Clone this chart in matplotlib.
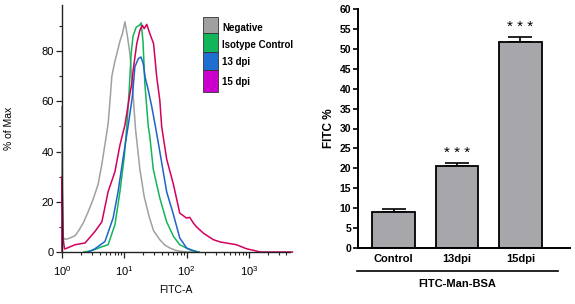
#!/usr/bin/env python3
"""Flow histogram of FITC-Man-BSA uptake plus bar summary."""

import matplotlib

matplotlib.use("Agg")
import matplotlib.pyplot as plt
import numpy as np
from matplotlib.patches import Rectangle
from matplotlib.ticker import FixedLocator, LogLocator, MultipleLocator, NullFormatter

plt.rcParams["font.family"] = ["Liberation Sans", "DejaVu Sans"]
plt.rcParams["mathtext.fontset"] = "custom"
plt.rcParams["mathtext.rm"] = "Liberation Sans"
plt.rcParams["mathtext.it"] = "Liberation Sans:italic"
plt.rcParams["mathtext.bf"] = "Liberation Sans:bold"

# histogram traces: log10(FITC-A) positions and % of max
neg_lx = [0.0, 0.0, 0.015, 0.05, 0.12, 0.21, 0.26, 0.34, 0.42, 0.50, 0.58, 0.64,
          0.69, 0.74, 0.77, 0.80, 0.84, 0.88, 0.93, 0.97, 1.01, 1.05, 1.09, 1.14,
          1.18, 1.25, 1.32, 1.40, 1.47, 1.57, 1.65, 1.73, 1.82, 1.89, 2.0, 2.2]
neg_y = [0, 58, 6, 5, 5.5, 6.5, 8.2, 11.5, 16, 21, 27, 35,
         43, 51, 60, 70, 75, 79, 84, 87, 91.7, 86, 79, 63,
         49, 33, 22, 14, 8.5, 4.9, 2.8, 1.6, 0.7, 0.3, 0, 0]

iso_lx = [0.35, 0.45, 0.53, 0.63, 0.74, 0.85, 0.93, 1.00, 1.04, 1.08, 1.11, 1.14,
          1.19, 1.25, 1.27, 1.30, 1.33, 1.385, 1.41, 1.465, 1.57, 1.68, 1.79, 1.89,
          2.05, 2.2]
iso_y = [0, 0.4, 1, 2, 2.9, 10.9, 24, 38, 50, 65, 79, 86,
         89.5, 90.5, 91.3, 84, 67, 50, 46, 33, 21.5, 12, 6.2, 2.9,
         0.9, 0]

d13_lx = [0.42, 0.53, 0.69, 0.82, 0.90, 0.98, 1.064, 1.13, 1.17, 1.225, 1.267,
          1.305, 1.332, 1.385, 1.44, 1.50, 1.57, 1.68, 1.79, 1.89, 2.0, 2.16]
d13_y = [0, 1.3, 4.2, 13.5, 24, 37.3, 50.6, 62, 73.8, 77, 77.7,
         75, 69.8, 64.5, 58, 50, 40, 24, 14.8, 5.6, 1.6, 0]

d15_lx = [0.0, 0.0, 0.02, 0.04, 0.075, 0.21, 0.37, 0.53, 0.64, 0.74, 0.85, 0.93,
          1.01, 1.09, 1.12, 1.14, 1.20, 1.25, 1.29, 1.32, 1.36, 1.41, 1.47, 1.52,
          1.57, 1.60, 1.68, 1.79, 1.89, 2.0, 2.05, 2.11, 2.16, 2.27, 2.43, 2.54,
          2.8, 2.96, 3.07, 3.18, 3.7]
d15_y = [0, 30, 5, 1.2, 1.5, 2.9, 3.6, 8.2, 12, 24, 32, 42.6,
         50.6, 63, 67, 72, 83, 88.3, 90.3, 89, 90.7, 87, 83, 69.8,
         60.5, 50, 37, 26.8, 15.5, 13.5, 13.8, 11.5, 10, 7.5, 4.9, 4,
         2.9, 1.3, 0.7, 0, 0]

hist_names = ["Negative", "Isotype Control", "13 dpi", "15 dpi"]
hist_colors = ["#a0a0a0", "#12b55a", "#1f63c9", "#d3005e"]
legend_box_colors = ["#a0a0a0", "#12b55a", "#1f6fd0", "#cc00cc"]

# bar summary
groups = ["Control", "13dpi", "15dpi"]
fitc_pct = [9.1, 20.7, 51.6]
fitc_err = [0.7, 0.6, 1.4]
signif = ["", "***", "***"]

fig = plt.figure(figsize=(5.75, 3.04), dpi=100)
W, H = 575, 304


def px_axes(x0, y0, x1, y1):
    return fig.add_axes([x0 / W, 1 - y1 / H, (x1 - x0) / W, (y1 - y0) / H])


# ---- left: histogram ----
ax = px_axes(62, 5, 290, 252)
traces = [(neg_lx, neg_y), (iso_lx, iso_y), (d13_lx, d13_y), (d15_lx, d15_y)]
for (lx, yy), col in zip(traces, hist_colors):
    ax.plot(10 ** np.asarray(lx), yy, color=col, lw=1.1, clip_on=False)
ax.set_xscale("log")
ax.set_xlim(1, 10 ** 3.66)
ax.set_ylim(0, 98.4)
ax.yaxis.set_major_locator(FixedLocator([0, 20, 40, 60, 80]))
ax.yaxis.set_minor_locator(MultipleLocator(10))
ax.xaxis.set_major_locator(LogLocator(base=10, numticks=10))
ax.xaxis.set_minor_locator(LogLocator(base=10, subs=np.arange(2, 10), numticks=10))
ax.xaxis.set_minor_formatter(NullFormatter())
for s in ("top", "right"):
    ax.spines[s].set_visible(False)
for s in ("left", "bottom"):
    ax.spines[s].set_linewidth(1.0)
    ax.spines[s].set_color("#222222")
ax.tick_params(axis="both", which="major", length=4, width=0.9, labelsize=8,
               color="#222222", pad=2)
ax.tick_params(axis="x", which="major", pad=5)
ax.tick_params(axis="both", which="minor", length=2.5, width=0.8, color="#222222")
ax.set_ylabel("% of Max", fontsize=7.5, labelpad=20)
ax.set_xlabel("FITC-A", fontsize=7.5, labelpad=5)

box_tops = [17, 33, 52, 70]
box_bots = [33, 52, 70, 92]
text_y = [27.7, 45, 62.3, 81.7]
for name, col, t, b, ty in zip(hist_names, legend_box_colors, box_tops, box_bots, text_y):
    fig.add_artist(Rectangle((203 / W, 1 - b / H), 15 / W, (b - t) / H,
                             transform=fig.transFigure, facecolor=col,
                             edgecolor="#333333", lw=0.6))
    fig.text(222 / W, 1 - ty / H, name, fontsize=7, fontweight="bold",
             va="center", ha="left")

# ---- right: bars ----
bx = px_axes(358, 9, 570, 248)
xpos = np.arange(len(groups))
bx.bar(xpos, fitc_pct, width=0.67, color="#a7a7ab", edgecolor="black", lw=1.3, zorder=2)
bx.errorbar(xpos, fitc_pct, yerr=[np.zeros(len(groups)), fitc_err], fmt="none",
            ecolor="black", elinewidth=1.2, capsize=8.5, capthick=1.2, zorder=1)
for x, v, e, s in zip(xpos, fitc_pct, fitc_err, signif):
    if s:
        bx.text(x, v + e + 2.6, " ".join(s), ha="center", va="center", fontsize=11)
bx.set_xlim(-0.56, 2.78)
bx.set_ylim(0, 60)
bx.yaxis.set_major_locator(MultipleLocator(5))
bx.set_xticks(xpos)
bx.set_xticklabels(groups, fontsize=8, fontweight="bold")
for s in ("top", "right"):
    bx.spines[s].set_visible(False)
for s in ("left", "bottom"):
    bx.spines[s].set_linewidth(1.4)
bx.tick_params(axis="x", length=0, pad=4)
bx.tick_params(axis="y", length=3.5, width=1.2, labelsize=7.5, pad=1.5)
for lab in bx.get_yticklabels():
    lab.set_fontweight("bold")
bx.set_ylabel("FITC %", fontsize=8.5, fontweight="bold", labelpad=3)

bx.plot([-0.575, 2.59], [-0.096, -0.096], color="black", lw=1.2,
        transform=bx.get_xaxis_transform(), clip_on=False)
bx.text((-0.575 + 2.59) / 2, -0.15, "FITC-Man-BSA", transform=bx.get_xaxis_transform(),
        ha="center", va="center", fontsize=8, fontweight="bold")

fig.savefig("out.png", dpi=100)
